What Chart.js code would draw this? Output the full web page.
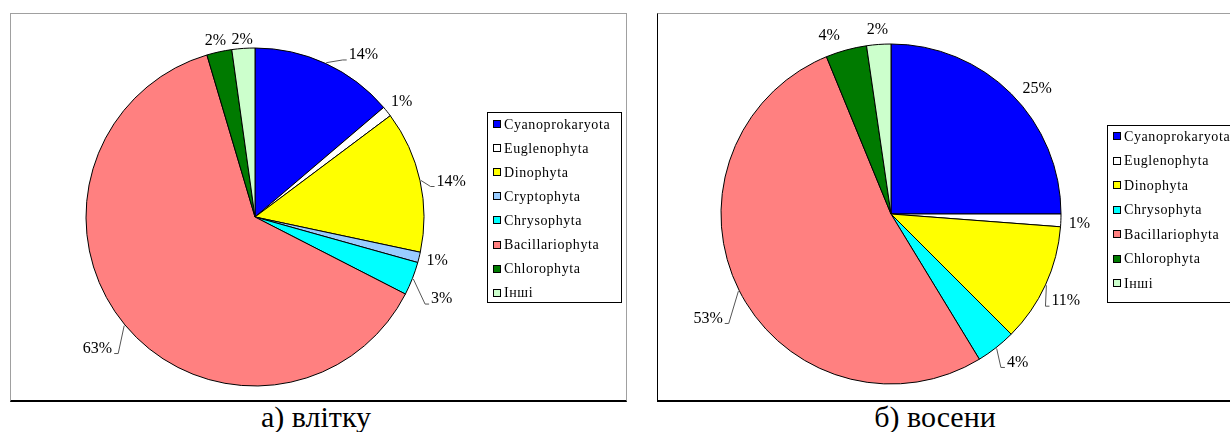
<!DOCTYPE html>
<html>
<head>
<meta charset="utf-8">
<script src="https://cdn.jsdelivr.net/npm/chart.js@4.4.1/dist/chart.umd.min.js"></script>
<style>
  html, body { margin: 0; padding: 0; background: #fff; width: 1230px; height: 432px; overflow: hidden; }
  .box { position: absolute; top: 13px; height: 389px; box-sizing: border-box;
         border: 1px solid #a0a0a0; border-bottom: 2px solid #000; background: #fff; }
  #boxA { left: 10px; width: 617px; }
  #boxB { left: 657px; width: 580px; border-left: 1px solid #000; }
  canvas { position: absolute; top: 0; left: 0; }
  .cap { position: absolute; top: 402px; height: 30px; font-family: "Liberation Serif", "Times New Roman", serif;
         font-size: 30px; line-height: 30px; text-align: center; color: #000; white-space: nowrap; }
  #capA { left: 10px; width: 612px; }
  #capB { left: 657px; width: 556px; }
</style>
</head>
<body>
<div class="box" id="boxA"><canvas id="cA" width="615" height="386"></canvas></div>
<div class="box" id="boxB"><canvas id="cB" width="578" height="386"></canvas></div>
<div class="cap" id="capA"></div>
<div class="cap" id="capB"></div>
<script>
// ---------- DATA ----------
const summerCategories = ["Cyanoprokaryota", "Euglenophyta", "Dinophyta", "Cryptophyta", "Chrysophyta", "Bacillariophyta", "Chlorophyta", "Інші"];
const summerValues = [13.8, 1.0, 13.6, 1.0, 3.2, 63.0, 2.4, 2.2];
const summerLabels = ["14%", "1%", "14%", "1%", "3%", "63%", "2%", "2%"];

const autumnCategories = ["Cyanoprokaryota", "Euglenophyta", "Dinophyta", "Chrysophyta", "Bacillariophyta", "Chlorophyta", "Інші"];
const autumnValues = [25.0, 1.2, 11.3, 3.8, 52.5, 3.9, 2.3];
const autumnLabels = ["25%", "1%", "11%", "4%", "53%", "4%", "2%"];

const captions = ["а) влітку", "б) восени"];

// ---------- LAYOUT / STYLE ----------
// label nudges (dx, dy) away from the default outside position, and whether a leader line is drawn
const summerLabelShift = [[28, 5], [0, 0], [9, 4], [0, 0], [12, 15], [-10, 14], [0, 4], [0, 6]];
const summerLeader = [true, false, true, false, true, true, false, false];
const autumnLabelShift = [[10, 6], [0, 3], [0, 10], [10, 3], [-11, 21], [-12, 0], [0, 0]];
const autumnLeader = [false, false, true, true, true, false, false];

const colorMap = {
  "Cyanoprokaryota": "#0000FF",
  "Euglenophyta": "#FFFFFF",
  "Dinophyta": "#FFFF00",
  "Cryptophyta": "#99CCFF",
  "Chrysophyta": "#00FFFF",
  "Bacillariophyta": "#FF8080",
  "Chlorophyta": "#007A00",
  "Інші": "#CCFFCC"
};
const SERIF = '"Liberation Serif", "Times New Roman", serif';

const pctLabelPlugin = {
  id: 'pctLabels',
  afterDatasetsDraw(chart, args, opts) {
    const ctx = chart.ctx;
    const meta = chart.getDatasetMeta(0);
    const texts = opts.texts || [];
    const shifts = opts.shifts || [];
    const leaders = opts.leaders || [];
    ctx.save();
    ctx.font = '16px ' + SERIF;
    ctx.textAlign = 'center';
    ctx.textBaseline = 'middle';
    meta.data.forEach((arc, i) => {
      const p = arc.getProps(['x', 'y', 'startAngle', 'endAngle', 'outerRadius'], true);
      const mid = (p.startAngle + p.endAngle) / 2;
      const c = Math.cos(mid), s = Math.sin(mid);
      const R = p.outerRadius + 8;
      const t = texts[i];
      const w = ctx.measureText(t).width;
      const h = 14;
      const [dx, dy] = shifts[i] || [0, 0];
      const x = p.x + R * c + (w / 2) * c + dx;
      const y = p.y + R * s + (h / 2) * s + dy;
      if (leaders[i]) {
        const ex = p.x + (p.outerRadius + 1) * c;
        const ey = p.y + (p.outerRadius + 1) * s;
        const tx = c >= 0 ? x - w / 2 - 2 : x + w / 2 + 2;
        const ty = y + 5;
        ctx.beginPath();
        ctx.strokeStyle = '#555';
        ctx.lineWidth = 1;
        ctx.moveTo(ex, ey);
        ctx.lineTo(c >= 0 ? tx - 4 : tx + 4, ty);
        ctx.lineTo(tx, ty);
        ctx.stroke();
      }
      ctx.fillStyle = '#000';
      ctx.fillText(t, x, y);
    });
    ctx.restore();
  }
};

const boxLegendPlugin = {
  id: 'boxLegend',
  afterDraw(chart, args, opts) {
    const ctx = chart.ctx;
    const labels = chart.data.labels;
    const colors = chart.data.datasets[0].backgroundColor;
    ctx.save();
    ctx.fillStyle = '#fff';
    ctx.fillRect(opts.x, opts.y, opts.w, opts.h);
    ctx.strokeStyle = '#000';
    ctx.lineWidth = 1;
    ctx.strokeRect(opts.x + 0.5, opts.y + 0.5, opts.w, opts.h);
    ctx.font = '14px ' + SERIF;
    if ('letterSpacing' in ctx) ctx.letterSpacing = '0.6px';
    ctx.textBaseline = 'middle';
    ctx.textAlign = 'left';
    labels.forEach((lab, i) => {
      const cy = opts.firstRow + i * opts.rowGap;
      ctx.fillStyle = colors[i];
      ctx.fillRect(opts.x + 6, Math.round(cy - 4), 8, 8);
      ctx.strokeStyle = '#000';
      ctx.strokeRect(opts.x + 6.5, Math.round(cy - 4) + 0.5, 7, 7);
      ctx.fillStyle = '#000';
      ctx.fillText(lab, opts.x + 17, cy + 1);
    });
    ctx.restore();
  }
};

function makePie(canvasId, cats, vals, texts, shifts, leaders, radius, padding, legend) {
  return new Chart(document.getElementById(canvasId), {
    type: 'pie',
    data: {
      labels: cats,
      datasets: [{
        data: vals,
        backgroundColor: cats.map(c => colorMap[c]),
        borderColor: '#000',
        borderWidth: 1,
        hoverOffset: 0
      }]
    },
    options: {
      responsive: false,
      animation: false,
      events: [],
      radius: radius,
      layout: { padding: padding },
      plugins: {
        legend: { display: false },
        tooltip: { enabled: false },
        pctLabels: { texts: texts, shifts: shifts, leaders: leaders },
        boxLegend: legend
      }
    },
    plugins: [pctLabelPlugin, boxLegendPlugin]
  });
}

function init() {
  document.getElementById('capA').textContent = captions[0];
  document.getElementById('capB').textContent = captions[1];
  makePie('cA', summerCategories, summerValues, summerLabels, summerLabelShift, summerLeader, 169,
    { left: 0, right: 127, top: 20, bottom: 0 },
    { x: 476, y: 98, w: 134, h: 190, firstRow: 110, rowGap: 24.1 });
  makePie('cB', autumnCategories, autumnValues, autumnLabels, autumnLabelShift, autumnLeader, 170,
    { left: 0, right: 112, top: 14, bottom: 0 },
    { x: 449, y: 111, w: 140, h: 177, firstRow: 122, rowGap: 24.5 });
}

let started = false;
function start() { if (!started) { started = true; init(); } }
if (document.fonts && document.fonts.load) {
  Promise.all([
    document.fonts.load('16px "Liberation Serif"', 'Cyanoprokaryota 14% Інші'),
    document.fonts.load('30px "Liberation Serif"', 'а) влітку б) восени')
  ]).then(start, start);
  setTimeout(start, 1500);
} else {
  start();
}
</script>
</body>
</html>
